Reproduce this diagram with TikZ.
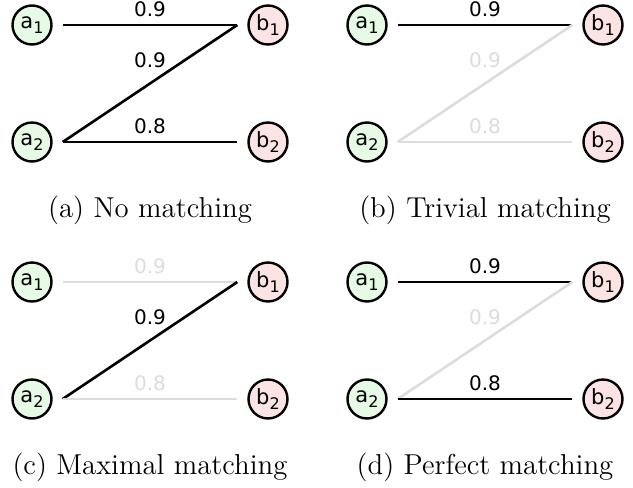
\documentclass[tikz,border=0pt]{standalone}
\usepackage{fontspec}
\newfontfamily\graphfont{DejaVu Sans}
\newcommand{\vsub}[1]{\raisebox{-0.5ex}{\fontsize{8}{9}\selectfont #1}}

\begin{document}
\begin{tikzpicture}[x=0.5pt, y=-0.5pt,
    vertex/.style={circle, draw=black, line width=1.2pt, minimum size=19.5pt, inner sep=0pt,
        font=\graphfont\fontsize{10.5}{12}\selectfont},
    aside/.style={vertex, fill=aFill},
    bside/.style={vertex, fill=bFill},
    chosen/.style={line width=1.3pt, color=black},
    unchosen/.style={line width=1.3pt, color=fadeGray},
    weight/.style={midway, above, font=\graphfont\fontsize{10}{12}\selectfont},
    subtitle/.style={font=\Large}]
    % Define colours
    \definecolor{aFill}{HTML}{E6FAE6}
    \definecolor{bFill}{HTML}{FCE4E4}
    \definecolor{fadeGray}{HTML}{DCDCDC}

    % Fix the page size
    \useasboundingbox (0,0) rectangle (633,488);

    % Draw the four graphs
    \foreach \tag/\dx/\dy/\eTop/\eDiag/\eBot/\subcap in {
        a/0/0/chosen/chosen/chosen/{(a) No matching},
        b/335/0/chosen/unchosen/unchosen/{(b) Trivial matching},
        c/0/257/unchosen/chosen/unchosen/{(c) Maximal matching},
        d/335/257/chosen/unchosen/chosen/{(d) Perfect matching}}
    {
        \begin{scope}[shift={(\dx,\dy)}, name prefix=\tag-]
            % Vertices
            \node[aside] (a1) at (32,25) {a\vsub{1}};
            \node[aside] (a2) at (32,142) {a\vsub{2}};
            \node[bside] (b1) at (268,25) {b\vsub{1}};
            \node[bside] (b2) at (268,142) {b\vsub{2}};

            % Edge ends, a little off the vertices
            \coordinate (a1r) at ([xshift=5pt]a1.east);
            \coordinate (a2r) at ([xshift=5pt]a2.east);
            \coordinate (b1l) at ([xshift=-5pt]b1.west);
            \coordinate (b2l) at ([xshift=-5pt]b2.west);

            % Edges with weights
            \draw[\eTop] (a1r) -- (b1l) node[weight] {0.9};
            \draw[\eDiag] (a2r) -- (b1l) node[weight, above=4pt] {0.9};
            \draw[\eBot] (a2r) -- (b2l) node[weight] {0.8};

            % Caption
            \node[subtitle] (cap) at (150,210) {\subcap};
        \end{scope}
    }
\end{tikzpicture}
\end{document}
